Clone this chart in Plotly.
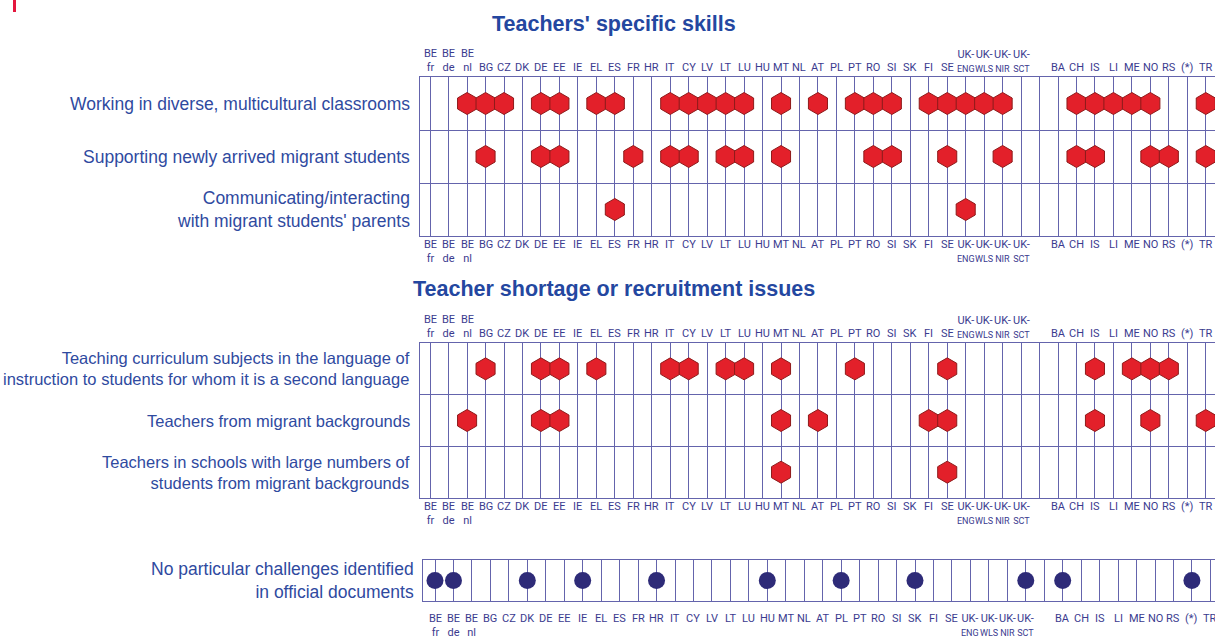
import plotly.graph_objects as go

W, H = 1215, 638

countries = ["BE fr", "BE de", "BE nl", "BG", "CZ", "DK", "DE", "EE", "IE", "EL", "ES", "FR", "HR",
             "IT", "CY", "LV", "LT", "LU", "HU", "MT", "NL", "AT", "PL", "PT", "RO", "SI", "SK", "FI",
             "SE", "UK-ENG", "UK-WLS", "UK-NIR", "UK-SCT", "", "BA", "CH", "IS", "LI", "ME", "NO",
             "RS", "(*)", "TR"]
tick_labels = ["BE<br>fr", "BE<br>de", "BE<br>nl", "BG", "CZ", "DK", "DE", "EE", "IE", "EL", "ES", "FR",
               "HR", "IT", "CY", "LV", "LT", "LU", "HU", "MT", "NL", "AT", "PL", "PT", "RO", "SI", "SK",
               "FI", "SE", "UK-<br>ENG", "UK-<br>WLS", "UK-<br>NIR", "UK-<br>SCT", "", "BA", "CH", "IS",
               "LI", "ME", "NO", "RS", "(*)", "TR"]

title_skills = "Teachers' specific skills"
title_shortage = "Teacher shortage or recruitment issues"

skills_rows = ["Working in diverse, multicultural classrooms",
               "Supporting newly arrived migrant students",
               "Communicating/interacting<br>with migrant students' parents"]
skills_diverse = ["BE nl", "BG", "CZ", "DE", "EE", "EL", "ES", "IT", "CY", "LV", "LT", "LU", "MT", "AT",
                  "PT", "RO", "SI", "FI", "SE", "UK-ENG", "UK-WLS", "UK-NIR", "CH", "IS", "LI", "ME",
                  "NO", "TR"]
skills_newly = ["BG", "DE", "EE", "FR", "IT", "CY", "LT", "LU", "MT", "RO", "SI", "SE", "UK-NIR", "CH",
                "IS", "NO", "RS", "TR"]
skills_parents = ["ES", "UK-ENG"]

shortage_rows = ["Teaching curriculum subjects in the language of<br>instruction to students for whom it is a second language",
                 "Teachers from migrant backgrounds",
                 "Teachers in schools with large numbers of<br>students from migrant backgrounds"]
shortage_language = ["BG", "DE", "EE", "EL", "IT", "CY", "LT", "LU", "MT", "PT", "SE", "IS", "ME", "NO", "RS"]
shortage_migrant = ["BE nl", "DE", "EE", "MT", "AT", "FI", "SE", "IS", "NO", "TR"]
shortage_schools = ["MT", "SE"]

none_row = ["No particular challenges identified<br>in official documents"]
no_challenges = ["BE fr", "BE de", "DK", "IE", "HR", "HU", "PL", "SK", "UK-SCT", "BA", "(*)"]

# ---- styles ----
GRID = "#6464ac"
CODE_COL = "#3b3b8f"
LABEL_COL = "#2f4a9f"
TITLE_COL = "#2447a0"
RED = "#e3202a"
RED_EDGE = "#8e1b1b"
NAVY = "#2e2b78"
CODE_FAMILY = "Roboto, Liberation Sans, sans-serif"


def label_font(size):
    return dict(family="Liberation Sans, Arial, sans-serif", size=size, color=LABEL_COL)


def px_x(p):
    return p / W


def px_y(p):
    return 1 - p / H


def code_text(lab):
    # UK sub-labels are set smaller so the four neighbours do not collide
    if lab.startswith("UK-"):
        top, bottom = lab.split("<br>")
        return top + "<br><span style='font-size:9px'>" + bottom + "</span>"
    return lab


fig = go.Figure()

panels = [
    # (xaxis, yaxis, rows data, row labels, label font size, label right edge px)
    ("x", "y", [skills_diverse, skills_newly, skills_parents], skills_rows, 17.5, 412),
    ("x2", "y2", [shortage_language, shortage_migrant, shortage_schools], shortage_rows, 16.5, 412),
    ("x3", "y3", [no_challenges], none_row, 17.5, 416),
]

for xa, ya, rows, labels, fsize, xright in panels:
    for r, members in enumerate(rows):
        xs_idx = [countries.index(c) for c in members]
        if ya == "y3":
            marker = dict(symbol="circle", size=17, color=NAVY, line=dict(width=0))
        else:
            marker = dict(symbol="hexagon", size=22, color=RED, line=dict(color=RED_EDGE, width=1))
        fig.add_trace(go.Scatter(x=xs_idx, y=[r] * len(xs_idx), mode="markers", marker=marker,
                                 xaxis=xa, yaxis=ya, showlegend=False, hoverinfo="skip"))
        fig.add_annotation(text=labels[r], xref="paper", x=px_x(xright), xanchor="right",
                           yref=ya, y=r, yanchor="middle", align="right", showarrow=False,
                           font=label_font(fsize))

axis_common = dict(showticklabels=False, ticks="", zeroline=False, showline=True,
                   linecolor=GRID, linewidth=1, fixedrange=True)
xgrid = dict(showgrid=True, gridcolor=GRID, gridwidth=1, tick0=0, dtick=1, mirror=True)

fig.update_layout(
    width=W, height=H, margin=dict(l=0, r=0, t=0, b=0),
    paper_bgcolor="white", plot_bgcolor="white",
    xaxis=dict(domain=[px_x(420), 1], range=[-0.55, 42.5], anchor="y", **xgrid, **axis_common),
    xaxis2=dict(domain=[px_x(420), 1], range=[-0.55, 42.5], anchor="y2", **xgrid, **axis_common),
    xaxis3=dict(domain=[px_x(423), 1], range=[-0.65, 42.25], anchor="y3", **xgrid, **axis_common),
    yaxis=dict(domain=[px_y(236), px_y(77)], range=[2.5, -0.5], anchor="x", showgrid=True,
               gridcolor=GRID, tickvals=[0.5, 1.5], mirror=False, **axis_common),
    yaxis2=dict(domain=[px_y(498), px_y(343)], range=[2.5, -0.5], anchor="x2", showgrid=True,
                gridcolor=GRID, tickvals=[0.5, 1.5], mirror=False, **axis_common),
    yaxis3=dict(domain=[px_y(601), px_y(560)], range=[0.5, -0.5], anchor="x3", showgrid=False,
                mirror=False, **axis_common),
)

# country code labels above / below panels
label_rows = [("x", 75, "bottom"), ("x", 237, "top"),
              ("x2", 341, "bottom"), ("x2", 499, "top"),
              ("x3", 611, "top")]
for xref, ypx, anchor in label_rows:
    for i, lab in enumerate(tick_labels):
        if not lab:
            continue
        fig.add_annotation(text=code_text(lab), xref=xref, x=i, yref="paper", y=px_y(ypx),
                           yanchor=anchor, xanchor="center", align="center", showarrow=False,
                           font=dict(family=CODE_FAMILY, size=11, color=CODE_COL), borderpad=0)

# titles
title_font = dict(family="Liberation Sans, Arial, sans-serif", size=21.5, color=TITLE_COL)
fig.add_annotation(text="<b>" + title_skills + "</b>", xref="paper", yref="paper", x=px_x(614),
                   y=px_y(24), xanchor="center", yanchor="middle", showarrow=False, font=title_font)
fig.add_annotation(text="<b>" + title_shortage + "</b>", xref="paper", yref="paper", x=px_x(614),
                   y=px_y(289), xanchor="center", yanchor="middle", showarrow=False, font=title_font)

# small red accent mark at the top-left corner
fig.add_shape(type="rect", xref="paper", yref="paper", x0=px_x(13), x1=px_x(16), y0=px_y(12),
              y1=1, fillcolor="#e4173e", line=dict(width=0))

fig.write_html("out.html", config={"displayModeBar": False},
               post_script="document.body.style.margin='0';document.body.style.overflow='hidden';")
